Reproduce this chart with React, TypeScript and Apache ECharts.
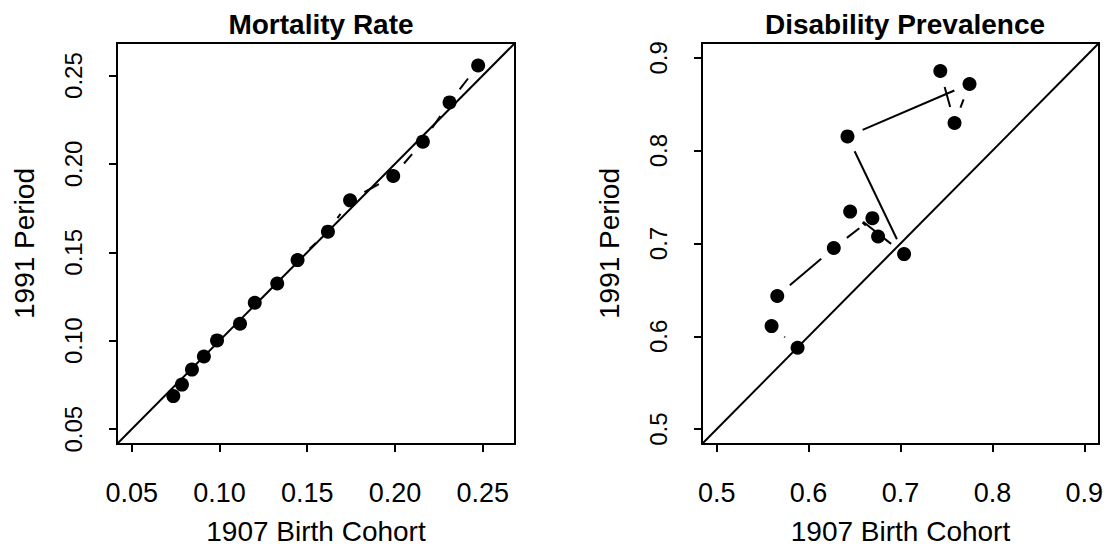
import React, { useEffect, useRef } from "react";
import * as echarts from "echarts";

// ---- Mortality Rate panel ----
const mortCohort = [0.0737, 0.0786, 0.0843, 0.0911, 0.0986, 0.1117, 0.1201, 0.1329, 0.1445, 0.1618, 0.1744, 0.199, 0.2159, 0.2311, 0.2474];
const mortPeriod = [0.0687, 0.0752, 0.0837, 0.0911, 0.1002, 0.1096, 0.1215, 0.1324, 0.1456, 0.1617, 0.1794, 0.1932, 0.2126, 0.2348, 0.2557];
const mortLim = [0.05, 0.26];
const mortTicks = [0.05, 0.1, 0.15, 0.2, 0.25];

// ---- Disability Prevalence panel ----
const disCohort = [0.588, 0.5597, 0.5659, 0.6274, 0.6694, 0.6756, 0.6452, 0.7039, 0.6423, 0.7751, 0.7588, 0.7433];
const disPeriod = [0.5877, 0.611, 0.6434, 0.6952, 0.7273, 0.7076, 0.7344, 0.6886, 0.8154, 0.8718, 0.8298, 0.8858];
const disLim = [0.5, 0.9];
const disTicks = [0.5, 0.6, 0.7, 0.8, 0.9];

const titles = ["Mortality Rate", "Disability Prevalence"];
const xName = "1907 Birth Cohort";
const yName = "1991 Period";

const FONT = "'Liberation Sans', Arial, Helvetica, sans-serif";
const GAP = 16.5;

function extend(lim: number[]) {
  const d = (lim[1] - lim[0]) * 0.04;
  return [lim[0] - d, lim[1] + d];
}

function segments(xs: number[], ys: number[]) {
  return xs.slice(0, -1).map((x, i) => [x, ys[i], xs[i + 1], ys[i + 1]]);
}

function renderSeg(params: any, api: any) {
  const p1 = api.coord([api.value(0), api.value(1)]);
  const p2 = api.coord([api.value(2), api.value(3)]);
  const dx = p2[0] - p1[0];
  const dy = p2[1] - p1[1];
  const len = Math.hypot(dx, dy);
  if (len <= 2 * GAP) return { type: "group", children: [] };
  const ux = dx / len;
  const uy = dy / len;
  return {
    type: "line",
    shape: { x1: p1[0] + ux * GAP, y1: p1[1] + uy * GAP, x2: p2[0] - ux * GAP, y2: p2[1] - uy * GAP },
    style: { stroke: "#000", lineWidth: 2, fill: null },
  };
}

function makeAxis(kind: "x" | "y", idx: number, range: number[], ticks: number[], digits: number) {
  const common: any = {
    type: "value",
    gridIndex: idx,
    min: range[0],
    max: range[1],
    splitLine: { show: false },
    axisLine: { show: false },
    axisTick: { show: true, inside: false, length: 8, lineStyle: { color: "#000", width: 2 }, customValues: ticks },
    name: kind === "x" ? xName : yName,
    nameLocation: "middle",
    nameTextStyle: { color: "#000", fontSize: 28, fontFamily: FONT },
  };
  if (kind === "x") {
    common.nameGap = 73;
    common.axisLabel = {
      customValues: ticks,
      formatter: (v: number) => v.toFixed(digits),
      color: "#000",
      fontSize: 27,
      fontFamily: FONT,
      margin: 35,
    };
  } else {
    common.nameGap = 79;
    common.axisLabel = {
      customValues: ticks,
      formatter: (v: number) => v.toFixed(digits),
      color: "#000",
      fontSize: 24,
      fontFamily: FONT,
      rotate: 90,
      margin: 32,
    };
  }
  return common;
}

export default function App() {
  const ref = useRef<HTMLDivElement>(null);
  useEffect(() => {
    if (!ref.current) return;
    const chart = echarts.init(ref.current, undefined, { renderer: "svg" });
    const mr = extend(mortLim);
    const dr = extend(disLim);
    const option: any = {
      animation: false,
      backgroundColor: "#fff",
      title: [
        { text: titles[0], left: 316, top: 5, textAlign: "center", textStyle: { fontSize: 28, fontWeight: "bold", color: "#000", fontFamily: FONT } },
        { text: titles[1], left: 900, top: 5, textAlign: "center", textStyle: { fontSize: 28, fontWeight: "bold", color: "#000", fontFamily: FONT } },
      ],
      grid: [
        { left: 117, top: 43, width: 398, height: 408, show: true, borderColor: "#000", borderWidth: 2, backgroundColor: "transparent" },
        { left: 702, top: 43, width: 397, height: 408, show: true, borderColor: "#000", borderWidth: 2, backgroundColor: "transparent" },
      ],
      xAxis: [makeAxis("x", 0, mr, mortTicks, 2), makeAxis("x", 1, dr, disTicks, 1)],
      yAxis: [makeAxis("y", 0, mr, mortTicks, 2), makeAxis("y", 1, dr, disTicks, 1)],
      series: [
        {
          type: "line",
          xAxisIndex: 0,
          yAxisIndex: 0,
          data: [[mr[0], mr[0]], [mr[1], mr[1]]],
          showSymbol: false,
          lineStyle: { color: "#000", width: 2 },
          silent: true,
        },
        {
          type: "line",
          xAxisIndex: 1,
          yAxisIndex: 1,
          data: [[dr[0], dr[0]], [dr[1], dr[1]]],
          showSymbol: false,
          lineStyle: { color: "#000", width: 2 },
          silent: true,
        },
        {
          type: "custom",
          xAxisIndex: 0,
          yAxisIndex: 0,
          renderItem: renderSeg,
          encode: { x: [0, 2], y: [1, 3] },
          data: segments(mortCohort, mortPeriod),
          silent: true,
        },
        {
          type: "custom",
          xAxisIndex: 1,
          yAxisIndex: 1,
          renderItem: renderSeg,
          encode: { x: [0, 2], y: [1, 3] },
          data: segments(disCohort, disPeriod),
          silent: true,
        },
        {
          type: "scatter",
          xAxisIndex: 0,
          yAxisIndex: 0,
          symbol: "circle",
          symbolSize: 14,
          itemStyle: { color: "#000", opacity: 1 },
          data: mortCohort.map((x, i) => [x, mortPeriod[i]]),
        },
        {
          type: "scatter",
          xAxisIndex: 1,
          yAxisIndex: 1,
          symbol: "circle",
          symbolSize: 14,
          itemStyle: { color: "#000", opacity: 1 },
          data: disCohort.map((x, i) => [x, disPeriod[i]]),
        },
      ],
    };
    chart.setOption(option);
    return () => chart.dispose();
  }, []);
  return <div ref={ref} style={{ position: "fixed", left: 0, top: 0, width: 1107, height: 550 }} />;
}
